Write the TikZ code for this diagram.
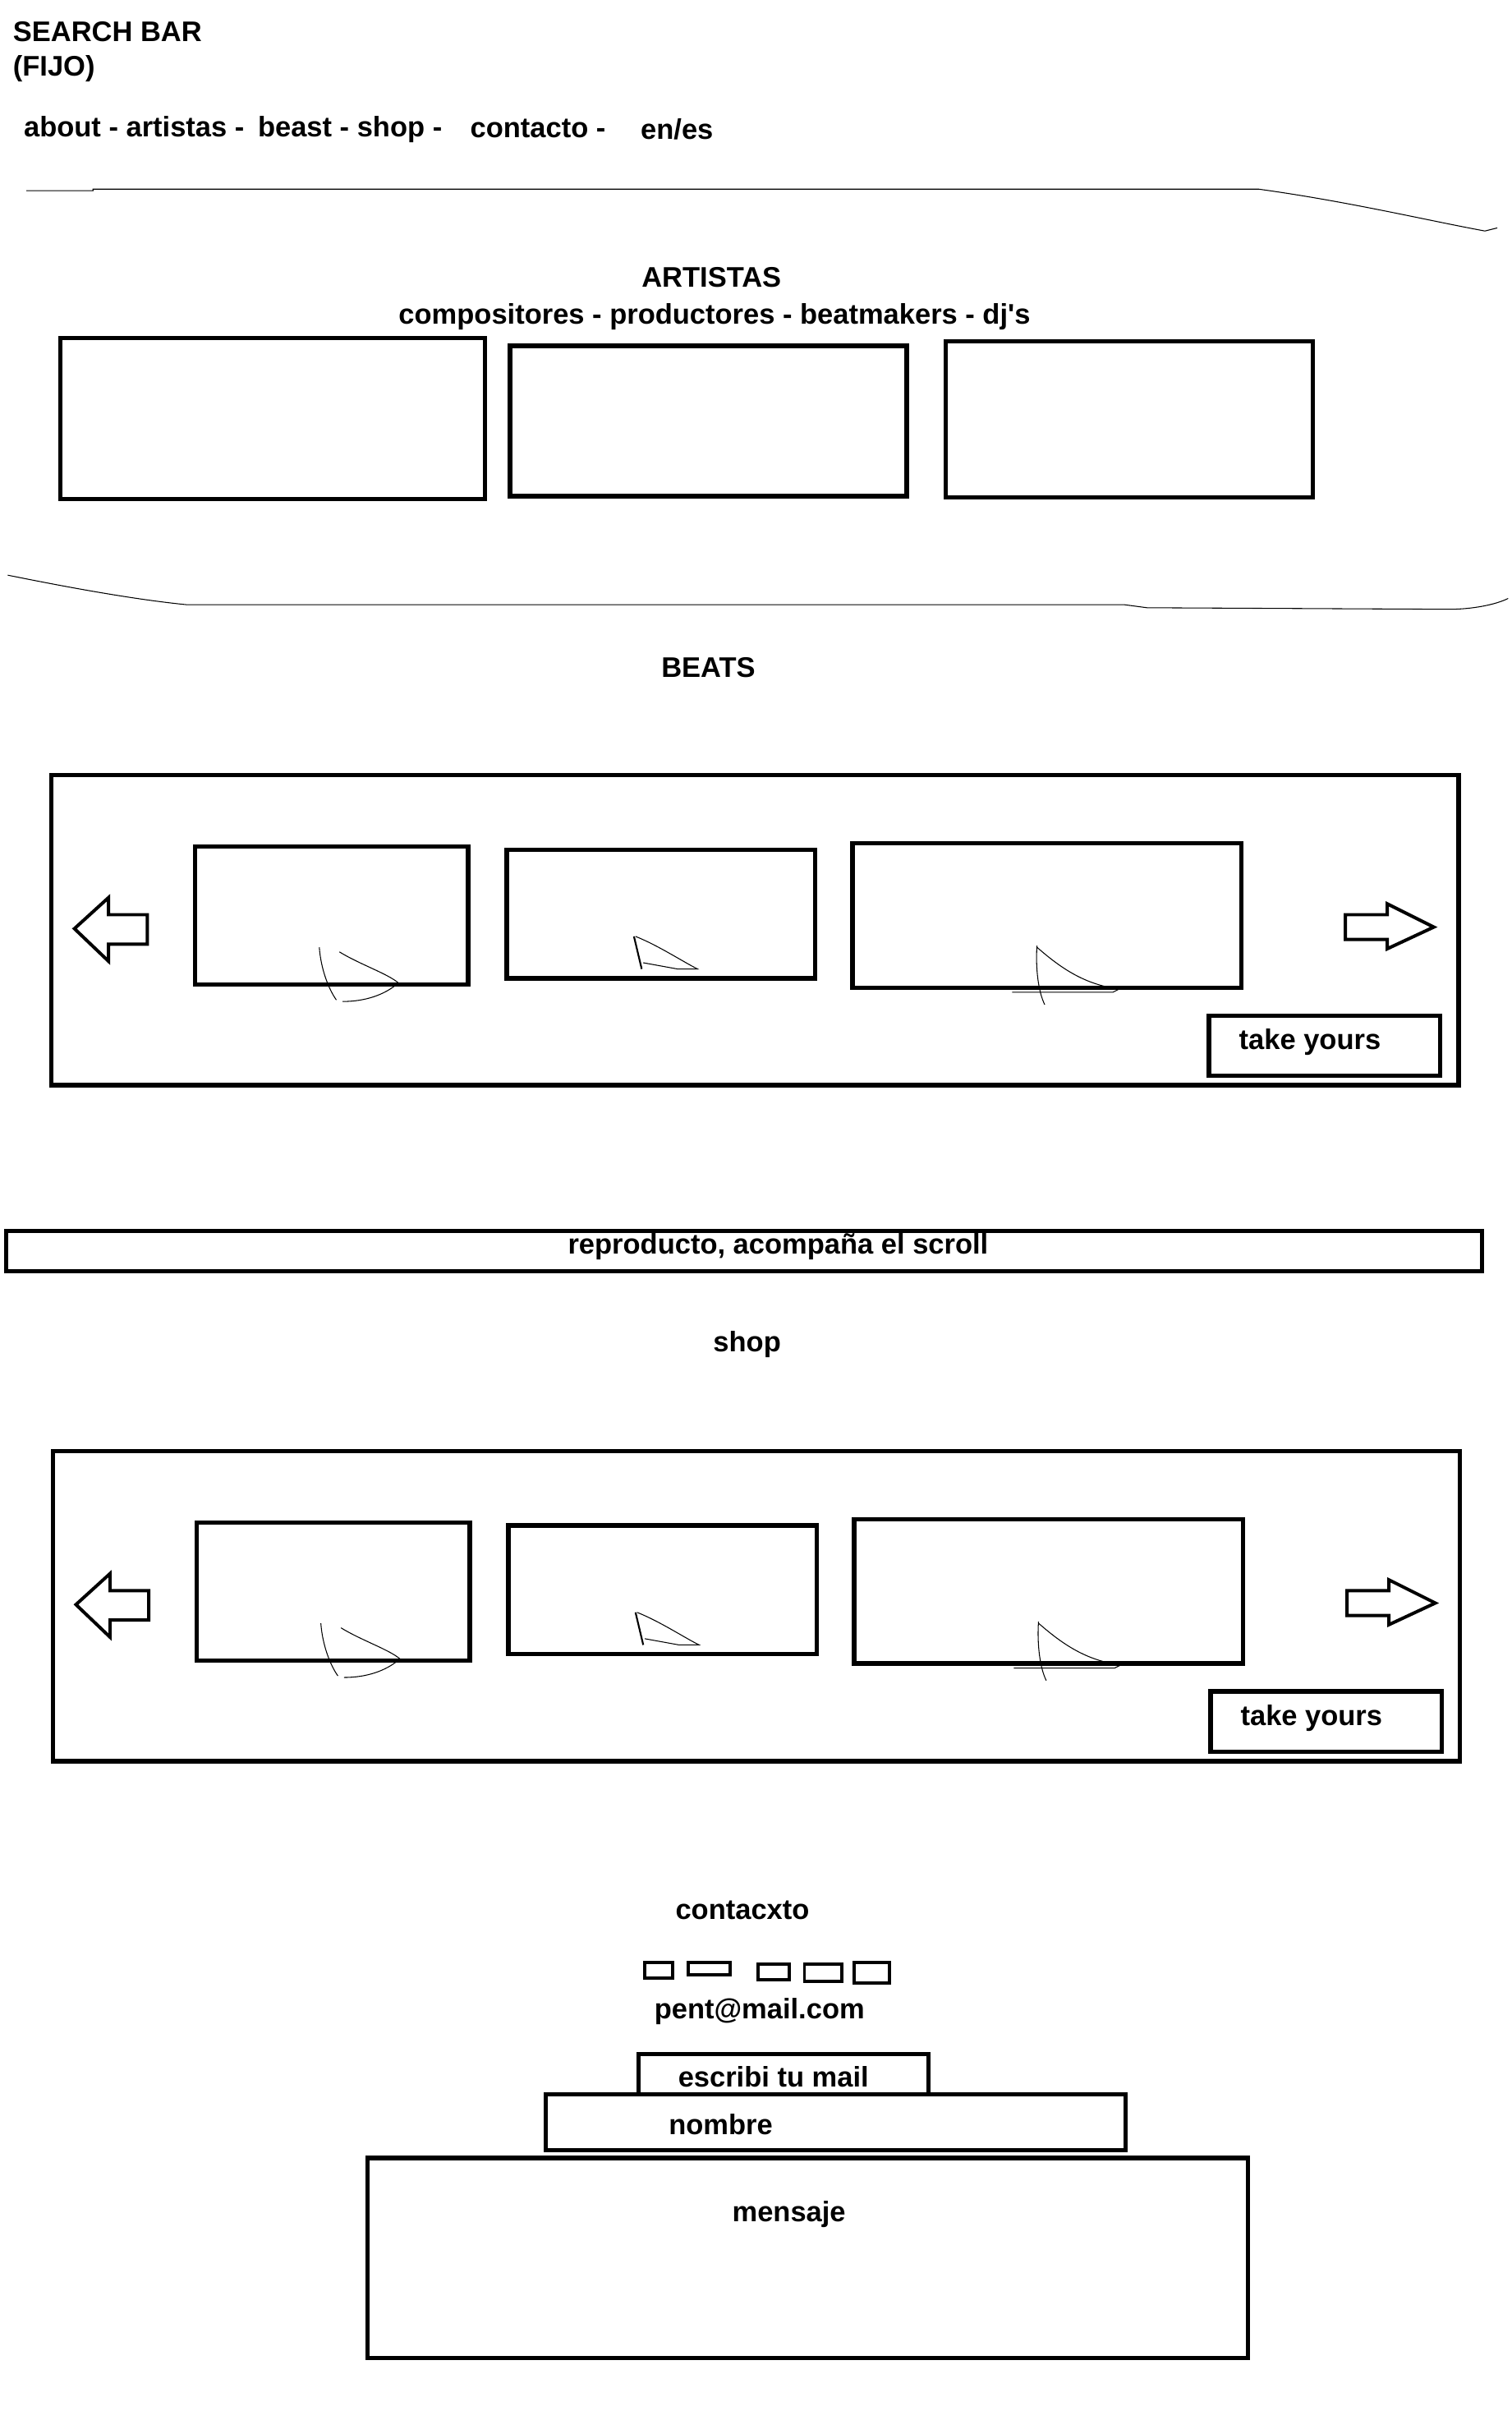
\documentclass[tikz,border=0pt]{standalone}
\usepackage{fontspec}
\setmainfont{Liberation Sans}
\usetikzlibrary{arrows.meta}
\tikzset{
  lbl/.style={font=\bfseries\fontsize{26}{30}\selectfont, inner sep=0pt},
  sketch/.style={line width=0.8pt},
  arrowbox/.style={line width=3pt, line join=miter},
  iconbox/.style={line width=3pt},
}

\begin{document}
\begin{tikzpicture}[x=0.5mm, y=-0.5mm, line width=4pt]
                    \useasboundingbox (0,0) rectangle (975,1570);

                    % header
                    \node[lbl, anchor=base west] (search) at (7,27) {SEARCH BAR};
                    \node[lbl, anchor=base west] (fijo) at (7,49) {(FIJO)};
                    \node[lbl, anchor=base west] (nav1) at (14,88) {about - artistas -};
                    \node[lbl, anchor=base west] (nav2) at (165,88) {beast - shop -};
                    \node[lbl, anchor=base west] (nav3) at (302,89) {contacto -};
                    \node[lbl, anchor=base west] (nav4) at (412,90) {en/es};
                    \draw[sketch] (17,123) -- (60,123) -- (60,122) -- (812,122)
                        .. controls (870,130) and (920,142) .. (958,149) -- (966,147);

                    % artistas
                    \node[lbl, anchor=base] (artistas) at (459,185) {ARTISTAS};
                    \node[lbl, anchor=base] (tipos) at (461,209) {compositores - productores - beatmakers - dj\textquotesingle s};
                    \begin{scope}[shift={(0,0)}]
                		\node (0) at (39,218) {};
                		\node (1) at (313,322) {};
                		\node (2) at (329,223) {};
                		\node (3) at (585,320) {};
                		\node (4) at (610,220) {};
                		\node (5) at (847,321) {};
                		\draw (0.center) rectangle (1.center);
                		\draw (2.center) rectangle (3.center);
                		\draw (4.center) rectangle (5.center);
                    \end{scope}
                    \draw[sketch] (5,371) .. controls (30,376) and (80,386) .. (120,390)
                        -- (725,390) -- (740,392) -- (935,393) .. controls (950,393) and (965,390) .. (973,386);

                    % beats
                    \node[lbl, anchor=base] (beats) at (457,437) {BEATS};
                    \begin{scope}[shift={(0,0)}]
                		\node (0) at (33,500) {};
                		\node (1) at (941,700) {};
                		\node (2) at (126,546) {};
                		\node (3) at (302,635) {};
                		\node (4) at (327,548) {};
                		\node (5) at (526,631) {};
                		\node (6) at (550,544) {};
                		\node (7) at (801,637) {};
                		\node (8) at (780,655) {};
                		\node (9) at (929,694) {};
                		\draw (0.center) rectangle (1.center);
                		\draw (2.center) rectangle (3.center);
                		\draw (4.center) rectangle (5.center);
                		\draw (6.center) rectangle (7.center);
                		\draw (8.center) rectangle (9.center);
                		\node[lbl, anchor=base west] (take) at (798,677) {take yours};
                		\draw[arrowbox] (48,599) -- (70,579) -- (70,590) -- (95,590) -- (95,609) -- (70,609) -- (70,620) -- cycle;
                		\draw[arrowbox] (868,590) -- (895,590) -- (895,583) -- (925,598) -- (895,612) -- (895,606) -- (868,606) -- cycle;
                		\draw[sketch] (206,611) .. controls (207,625) and (212,638) .. (217,645);
                		\draw[sketch] (219,614) .. controls (232,622) and (250,628) .. (257,634) .. controls (248,642) and (235,646) .. (221,646);
                		\draw[line width=1.6pt] (409,604) -- (414,625);
                		\draw[sketch] (410,604) .. controls (425,610) and (440,620) .. (450,625) -- (437,625) -- (415,621);
                		\draw[sketch] (669,610) .. controls (668,625) and (670,640) .. (674,648);
                		\draw[sketch] (669,611) .. controls (685,625) and (700,635) .. (722,638) -- (718,640) -- (653,640);
                    \end{scope}

                    % reproductor
                    \node (r0) at (4,794) {};
                    \node (r1) at (956,820) {};
                    \draw (r0.center) rectangle (r1.center);
                    \node[lbl, anchor=base] (repro) at (502,809) {reproducto, acompaña el scroll};

                    % shop
                    \node[lbl, anchor=base] (shop) at (482,872) {shop};
                    \begin{scope}[shift={(1,436)}]
                		\node (0) at (33,500) {};
                		\node (1) at (941,700) {};
                		\node (2) at (126,546) {};
                		\node (3) at (302,635) {};
                		\node (4) at (327,548) {};
                		\node (5) at (526,631) {};
                		\node (6) at (550,544) {};
                		\node (7) at (801,637) {};
                		\node (8) at (780,655) {};
                		\node (9) at (929,694) {};
                		\draw (0.center) rectangle (1.center);
                		\draw (2.center) rectangle (3.center);
                		\draw (4.center) rectangle (5.center);
                		\draw (6.center) rectangle (7.center);
                		\draw (8.center) rectangle (9.center);
                		\node[lbl, anchor=base west] (take) at (798,677) {take yours};
                		\draw[arrowbox] (48,599) -- (70,579) -- (70,590) -- (95,590) -- (95,609) -- (70,609) -- (70,620) -- cycle;
                		\draw[arrowbox] (868,590) -- (895,590) -- (895,583) -- (925,598) -- (895,612) -- (895,606) -- (868,606) -- cycle;
                		\draw[sketch] (206,611) .. controls (207,625) and (212,638) .. (217,645);
                		\draw[sketch] (219,614) .. controls (232,622) and (250,628) .. (257,634) .. controls (248,642) and (235,646) .. (221,646);
                		\draw[line width=1.6pt] (409,604) -- (414,625);
                		\draw[sketch] (410,604) .. controls (425,610) and (440,620) .. (450,625) -- (437,625) -- (415,621);
                		\draw[sketch] (669,610) .. controls (668,625) and (670,640) .. (674,648);
                		\draw[sketch] (669,611) .. controls (685,625) and (700,635) .. (722,638) -- (718,640) -- (653,640);
                    \end{scope}

                    % contacto
                    \node[lbl, anchor=base] (contacto) at (479,1238) {contacxto};
                    \draw[iconbox] (416,1266) rectangle (434,1276);
                    \draw[iconbox] (444,1266) rectangle (471,1274);
                    \draw[iconbox] (489,1267) rectangle (509,1277);
                    \draw[iconbox] (519,1267) rectangle (543,1278);
                    \draw[iconbox] (551,1266) rectangle (574,1279);
                    \node[lbl, anchor=base] (mail) at (490,1302) {pent@mail.com};
                    \node (c0) at (412,1325) {};
                    \node (c1) at (599,1351) {};
                    \node (c2) at (352,1351) {};
                    \node (c3) at (726,1387) {};
                    \node (c4) at (237,1392) {};
                    \node (c5) at (805,1521) {};
                    \draw (c0.center) rectangle (c1.center);
                    \draw (c2.center) rectangle (c3.center);
                    \draw (c4.center) rectangle (c5.center);
                    \node[lbl, anchor=base] (escribi) at (499,1346) {escribi tu mail};
                    \node[lbl, anchor=base] (nombre) at (465,1377) {nombre};
                    \node[lbl, anchor=base] (mensaje) at (509,1433) {mensaje};
                \end{tikzpicture}
\end{document}
